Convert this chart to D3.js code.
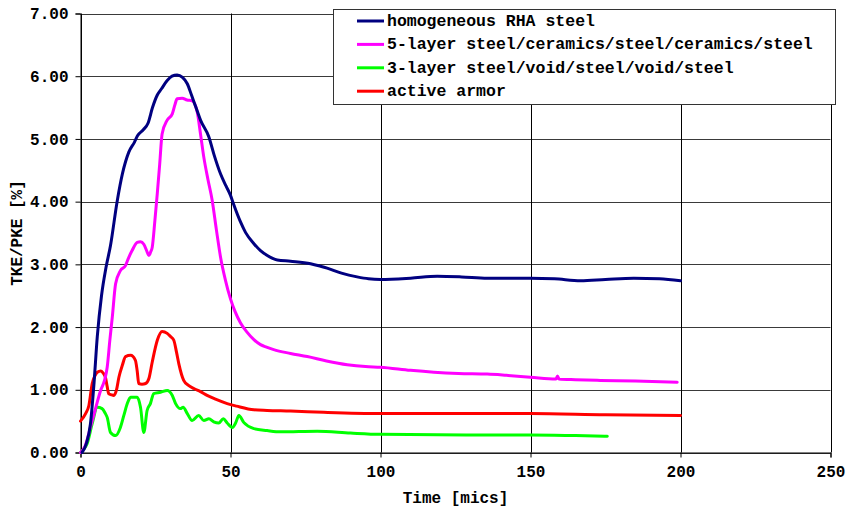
<!DOCTYPE html>
<html><head><meta charset="utf-8">
<script src="https://cdn.jsdelivr.net/npm/d3@7"></script>
<style>html,body{margin:0;padding:0;background:#fff;}svg{display:block;}</style>
</head><body>
<svg id="chart" width="847" height="509"></svg>
<script>
const seriesNames = ["homogeneous RHA steel","5-layer steel/ceramics/steel/ceramics/steel","3-layer steel/void/steel/void/steel","active armor"];
const seriesColors = ["#000080","#FF00FF","#00FF00","#FF0000"];
const xTicks = [0,50,100,150,200,250];
const yTicks = [0,1,2,3,4,5,6,7];

const rhaT = [0.5,2,3.3,4.5,5.6,7,8.5,10,12.2,14,16.1,18,19,21,22.5,24,25.6,27,28.9,30.5,32.2,34,35.6,37,38.5,40,42.8,44.5,46.7,48.5,50,51.1,53.3,55,57.8,60,62,65.6,70,76.7,80,82.2,87,92.2,96,100,110,118.9,127,135.6,150,158,166.7,175,184.4,193,200];
const rhaV = [0,0.15,0.45,1.1,1.85,2.5,2.95,3.3,4.0,4.45,4.79,4.95,5.05,5.15,5.25,5.5,5.7,5.8,5.93,6.0,6.02,5.98,5.88,5.7,5.5,5.3,5.03,4.75,4.44,4.25,4.1,3.95,3.68,3.51,3.33,3.22,3.15,3.07,3.05,3.01,2.97,2.94,2.86,2.8,2.77,2.76,2.78,2.81,2.8,2.78,2.78,2.77,2.74,2.76,2.78,2.77,2.74];

const fiveT = [0,1.5,3.3,5,6.7,8,8.9,9.8,10.6,11.7,13.3,15,16,17.2,18.9,20,21.1,22.2,22.8,23.4,23.9,24.8,25.6,26.4,27.2,28.9,30.6,31.5,32.2,33.9,35.5,37.2,38.9,40,41.1,42.5,43.9,45.3,46.7,48.3,50,51.5,53.3,55.5,57.8,60,62,64.4,70,75.6,82,88.9,95,100,110,117.8,126,135.6,142,150,158.5,159,159.5,165,173.3,185,198.9];
const fiveV = [0,0.1,0.4,0.7,0.99,1.15,1.36,1.8,2.16,2.69,2.9,2.98,3.1,3.22,3.35,3.36,3.32,3.2,3.14,3.2,3.27,3.7,4.13,4.6,5.08,5.3,5.4,5.55,5.64,5.65,5.62,5.61,5.43,5.08,4.71,4.35,4.02,3.55,3.11,2.75,2.45,2.25,2.07,1.92,1.8,1.72,1.68,1.64,1.58,1.53,1.46,1.4,1.37,1.36,1.31,1.28,1.26,1.25,1.23,1.2,1.17,1.22,1.17,1.16,1.15,1.14,1.12];

const threeT = [0,1,2.2,3.9,5.6,7.2,8.3,8.9,10,11.7,13.3,14.5,15.6,16.7,18.9,20,21.1,22.2,23.3,24.4,26.7,28.9,30.6,31.7,33.3,34.2,35.6,37.2,39.4,41.1,42.8,44.4,46.1,47.6,48.9,50.6,51.7,52.8,54.4,57.8,62.2,66.7,78.9,90,100,128.9,150,165,175.6];
const threeV = [0,0.05,0.14,0.46,0.72,0.7,0.62,0.56,0.32,0.27,0.4,0.6,0.78,0.88,0.88,0.72,0.32,0.67,0.78,0.94,0.96,0.99,0.91,0.78,0.7,0.72,0.62,0.51,0.59,0.51,0.54,0.49,0.47,0.54,0.47,0.4,0.47,0.59,0.48,0.38,0.35,0.33,0.34,0.31,0.29,0.28,0.28,0.27,0.26];

const activeT = [0,1.7,2.8,3.9,4.8,5.6,6.7,7.5,8.3,8.9,9.4,10.3,11.1,12,12.8,14,15,16.7,18.3,18.9,19.4,20.5,21.7,22.8,23.9,25.6,27.2,28.9,30,31.1,32,32.8,34.4,36,37.8,40,42.2,45,48.9,52,57.8,62.2,70,81.1,100,125,150,175,200];
const activeV = [0.5,0.62,0.75,1.1,1.22,1.28,1.3,1.27,1.2,1.05,0.94,0.92,0.91,1.0,1.2,1.4,1.53,1.55,1.47,1.3,1.1,1.09,1.1,1.18,1.44,1.79,1.93,1.9,1.85,1.79,1.6,1.41,1.15,1.07,1.02,0.97,0.91,0.85,0.78,0.74,0.68,0.67,0.66,0.64,0.62,0.62,0.62,0.6,0.59];

const seriesT = [rhaT, fiveT, threeT, activeT];
const seriesV = [rhaV, fiveV, threeV, activeV];

const svg = d3.select("#chart");
const L = 80.5, R = 830.5, T = 13.5, B = 452.5;
const x = d3.scaleLinear().domain([0,250]).range([L,R]);
const y = d3.scaleLinear().domain([0,7]).range([B,T]);
const font = "'Liberation Mono','Courier New',monospace";

// grid
const g = svg.append("g");
g.selectAll("line.h").data(yTicks).enter().append("line")
  .attr("x1",L).attr("x2",R).attr("y1",d=>Math.round(y(d))+0.5).attr("y2",d=>Math.round(y(d))+0.5)
  .attr("stroke","#3a3a3a").attr("stroke-width",1);
g.selectAll("line.v").data(xTicks).enter().append("line")
  .attr("y1",T).attr("y2",B).attr("x1",d=>Math.round(x(d))+0.5).attr("x2",d=>Math.round(x(d))+0.5)
  .attr("stroke","#000").attr("stroke-width",1);

// axes
const xAxis = d3.axisBottom(x).tickValues(xTicks).tickFormat(d3.format("d")).tickSize(5).tickPadding(8);
const yAxis = d3.axisLeft(y).tickValues(yTicks).tickFormat(d3.format(".2f")).tickSize(5).tickPadding(7);
const gx = svg.append("g").attr("transform",`translate(0,${B})`).call(xAxis);
const gy = svg.append("g").attr("transform",`translate(${L},0)`).call(yAxis);
[gx,gy].forEach(a=>{
  a.selectAll("path.domain").attr("stroke","#000");
  a.selectAll(".tick line").attr("stroke","#000");
  a.selectAll("text").attr("font-family",font).attr("font-weight","bold").attr("font-size","16px").attr("fill","#000");
});

// lines
const line = d3.line().x(d=>x(d[0])).y(d=>y(d[1])).curve(d3.curveMonotoneX);
[2,3,1,0].forEach(i=>{
  const pts = seriesT[i].map((t,j)=>[t, seriesV[i][j]]);
  svg.append("path").datum(pts).attr("d",line).attr("fill","none")
    .attr("stroke",seriesColors[i]).attr("stroke-width",3).attr("stroke-linejoin","round").attr("stroke-linecap","round");
});

// axis titles
svg.append("text").attr("x",(L+R)/2).attr("y",503).attr("text-anchor","middle")
  .attr("font-family",font).attr("font-weight","bold").attr("font-size","16px").text("Time [mics]");
svg.append("text").attr("transform",`translate(22,${(T+B)/2}) rotate(-90)`).attr("text-anchor","middle")
  .attr("font-family",font).attr("font-weight","bold").attr("font-size","16px").text("TKE/PKE [%]");

// legend
const lg = svg.append("g");
lg.append("rect").attr("x",333.5).attr("y",9.5).attr("width",502).attr("height",95)
  .attr("fill","#fff").attr("stroke","#333").attr("stroke-width",1);
seriesNames.forEach((n,i)=>{
  const yy = 21 + i*23.4;
  lg.append("line").attr("x1",357).attr("x2",384).attr("y1",yy).attr("y2",yy)
    .attr("stroke",seriesColors[i]).attr("stroke-width",3);
  lg.append("text").attr("x",387).attr("y",yy+5).attr("font-family",font).attr("font-weight","bold")
    .attr("font-size","16.5px").text(n);
});
</script>
</body></html>
